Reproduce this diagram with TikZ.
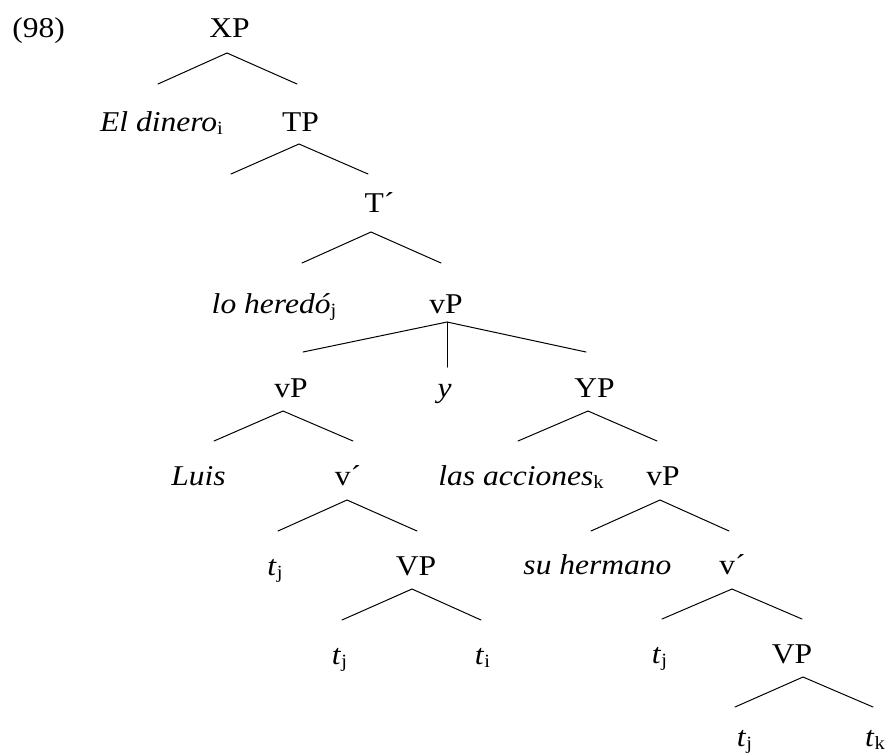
\documentclass[tikz,border=0pt]{standalone}
\usepackage{fontspec}
\setmainfont{Liberation Serif}[FakeStretch=1.1]
\newcommand\mysub[1]{\raisebox{-2.5pt}{\fontsize{14}{14}\selectfont\upshape #1}}
\tikzset{
  lab/.style={anchor=base, inner sep=0pt, font=\fontsize{21.5}{25}\selectfont},
  labw/.style={lab, anchor=base west},
  br/.style={line width=0.75pt, line cap=round}
}
\begin{document}
\begin{tikzpicture}[x=0.75pt, y=-0.75pt]
\useasboundingbox (0,0) rectangle (887,754);
% labels
\node[labw] (n98) at (12,37) {(98)};
\node[lab] (xp) at (229.5,37) {XP};
\node[lab] (eldinero) at (161.5,131) {\textit{El dinero}\mysub{i}};
\node[lab] (tp) at (300.5,131) {TP};
\node[lab] (tbar) at (379.5,212) {T´};
\node[lab] (loheredo) at (274,313) {\textit{lo heredó}\mysub{j}};
\node[lab] (vpa) at (446,313) {vP};
\node[lab] (vpb) at (291,397) {vP};
\node[lab] (yconj) at (444.5,397) {\textit{y}};
\node[lab] (yp) at (594.5,397) {YP};
\node[lab] (luis) at (198.5,485) {\textit{Luis}};
\node[lab] (vbara) at (348,485) {v´};
\node[lab] (acciones) at (521,485) {\textit{las acciones}\mysub{k}};
\node[lab] (vpc) at (663,485) {vP};
\node[lab] (tja) at (275,575) {\textit{t}\mysub{j}};
\node[lab] (VPa) at (416,575) {VP};
\node[lab] (hermano) at (597.5,574) {\textit{su hermano}};
\node[lab] (vbarb) at (732.5,574) {v´};
\node[lab] (tjb) at (339.5,664) {\textit{t}\mysub{j}};
\node[lab] (tia) at (482.5,664) {\textit{t}\mysub{i}};
\node[lab] (tjc) at (659.5,663) {\textit{t}\mysub{j}};
\node[lab] (VPb) at (792,663) {VP};
\node[lab] (tjd) at (744.5,746) {\textit{t}\mysub{j}};
\node[lab] (tkb) at (875,746) {\textit{t}\mysub{k}};
% branch points
\coordinate (xp-a) at (227,53);  \coordinate (xp-l) at (158,84);  \coordinate (xp-r) at (297,84);
\coordinate (tp-a) at (299,144); \coordinate (tp-l) at (231,174); \coordinate (tp-r) at (368,174);
\coordinate (tb-a) at (371,232); \coordinate (tb-l) at (302,263); \coordinate (tb-r) at (441,263);
\coordinate (va-a) at (447,322); \coordinate (va-l) at (303,352); \coordinate (va-m) at (447,367); \coordinate (va-r) at (586,352);
\coordinate (vb-a) at (283,411); \coordinate (vb-l) at (214,441); \coordinate (vb-r) at (353,441);
\coordinate (yp-a) at (588,411); \coordinate (yp-l) at (518,441); \coordinate (yp-r) at (657,441);
\coordinate (wa-a) at (347,500); \coordinate (wa-l) at (278,531); \coordinate (wa-r) at (417,531);
\coordinate (vc-a) at (660,500); \coordinate (vc-l) at (591,531); \coordinate (vc-r) at (729,531);
\coordinate (Va-a) at (412,589); \coordinate (Va-l) at (342,620); \coordinate (Va-r) at (481,620);
\coordinate (wb-a) at (732,589); \coordinate (wb-l) at (662,619); \coordinate (wb-r) at (802,619);
\coordinate (Vb-a) at (803,677); \coordinate (Vb-l) at (735,707); \coordinate (Vb-r) at (873,707);
% branches
\draw[br] (xp-l) -- (xp-a) -- (xp-r);
\draw[br] (tp-l) -- (tp-a) -- (tp-r);
\draw[br] (tb-l) -- (tb-a) -- (tb-r);
\draw[br] (va-l) -- (va-a) -- (va-r);
\draw[br] (va-a) -- (va-m);
\draw[br] (vb-l) -- (vb-a) -- (vb-r);
\draw[br] (yp-l) -- (yp-a) -- (yp-r);
\draw[br] (wa-l) -- (wa-a) -- (wa-r);
\draw[br] (vc-l) -- (vc-a) -- (vc-r);
\draw[br] (Va-l) -- (Va-a) -- (Va-r);
\draw[br] (wb-l) -- (wb-a) -- (wb-r);
\draw[br] (Vb-l) -- (Vb-a) -- (Vb-r);
\end{tikzpicture}
\end{document}
